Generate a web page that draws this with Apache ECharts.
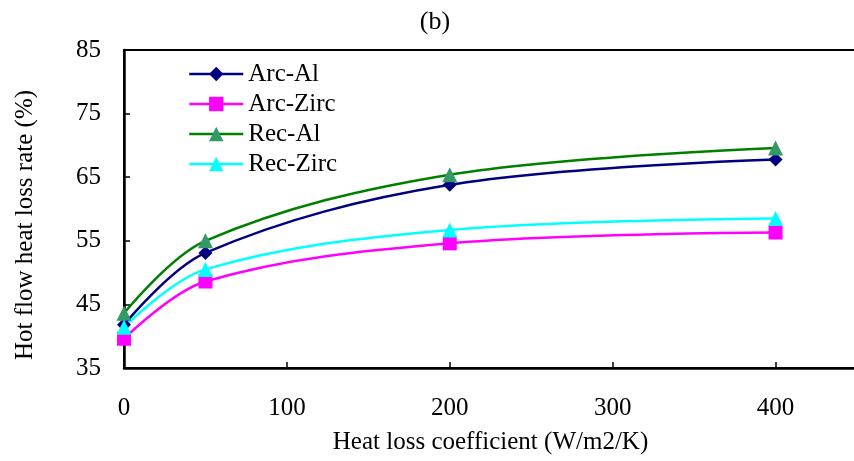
<!DOCTYPE html>
<html>
<head>
<meta charset="utf-8">
<script src="https://cdn.jsdelivr.net/npm/echarts@6/dist/echarts.min.js"></script>
<style>
  html, body { margin: 0; padding: 0; background: #fff; }
  #chart { width: 854px; height: 461px; }
</style>
</head>
<body>
<div id="chart"></div>
<script>
// Heat loss coefficient (W/m2/K)
const coefficients = [0, 50, 200, 400];
const xTicks = [0, 100, 200, 300, 400];
const yTicks = [35, 45, 55, 65, 75, 85];

// Hot flow heat loss rate (%)
const arcAl = [41.8, 53.1, 63.8, 67.8];
const arcZirc = [39.6, 48.6, 54.6, 56.3];
const recAl = [43.6, 55.0, 65.4, 69.6];
const recZirc = [41.4, 50.5, 56.7, 58.5];

const serif = '"Liberation Serif", "Times New Roman", serif';

function pairs(values) {
  return coefficients.map((x, i) => [x, values[i]]);
}

function makeSeries(name, values, lineColor, markColor, symbol, size) {
  return {
    name: name,
    type: 'line',
    data: pairs(values),
    smooth: 0.35,
    symbol: symbol,
    symbolSize: size,
    showAllSymbol: true,
    lineStyle: { color: lineColor, width: 2.5 },
    itemStyle: { color: markColor, borderWidth: 0 },
    emphasis: { disabled: true },
    z: 2
  };
}

const chart = echarts.init(document.getElementById('chart'), null, { renderer: 'canvas' });
chart.setOption({
  animation: false,
  backgroundColor: '#ffffff',
  title: {
    text: '(b)',
    left: 430,
    top: 4,
    textAlign: 'center',
    textStyle: { fontFamily: serif, fontSize: 26, fontWeight: 'normal', color: '#000' }
  },
  legend: {
    orient: 'vertical',
    left: 188,
    top: 61,
    padding: 0,
    itemWidth: 54,
    itemHeight: 18,
    itemGap: 4,
    lineStyle: { width: 2.5 },
    textStyle: { fontFamily: serif, fontSize: 25, color: '#000', lineHeight: 26 },
    data: ['Arc-Al', 'Arc-Zirc', 'Rec-Al', 'Rec-Zirc']
  },
  grid: {
    left: 124,
    top: 50,
    width: 733,
    height: 318,
    outerBoundsMode: 'none',
    containLabel: false,
    show: true,
    borderColor: '#000',
    borderWidth: 2,
    backgroundColor: 'transparent'
  },
  xAxis: {
    type: 'value',
    min: 0,
    max: 450,
    interval: 100,
    name: 'Heat loss coefficient (W/m2/K)',
    nameLocation: 'middle',
    nameGap: 62,
    nameTextStyle: { fontFamily: serif, fontSize: 25, color: '#000' },
    axisLine: { show: true, lineStyle: { color: '#000', width: 2.5 } },
    axisTick: { show: true, inside: true, length: 6, lineStyle: { color: '#000', width: 1.5 } },
    axisLabel: {
      fontFamily: serif, fontSize: 25, color: '#000', margin: 28,
      formatter: v => (xTicks.indexOf(v) >= 0 ? String(v) : '')
    },
    splitLine: { show: false }
  },
  yAxis: {
    type: 'value',
    min: 35,
    max: 85,
    interval: 10,
    name: 'Hot flow heat loss rate (%)',
    nameLocation: 'middle',
    nameGap: 86,
    nameTextStyle: { fontFamily: serif, fontSize: 25, color: '#000', padding: [0, 32, 0, 0] },
    axisLine: { show: true, lineStyle: { color: '#000', width: 2.5 } },
    axisTick: { show: true, inside: true, length: 6, lineStyle: { color: '#000', width: 1.5 } },
    axisLabel: {
      fontFamily: serif, fontSize: 25, color: '#000', margin: 23,
      formatter: v => (yTicks.indexOf(v) >= 0 ? String(v) : '')
    },
    splitLine: { show: false }
  },
  series: [
    makeSeries('Arc-Al', arcAl, '#000080', '#000080', 'diamond', 14),
    makeSeries('Arc-Zirc', arcZirc, '#ff00ff', '#ff00ff', 'rect', 14),
    makeSeries('Rec-Al', recAl, '#008000', '#339966', 'triangle', 15),
    makeSeries('Rec-Zirc', recZirc, '#00ffff', '#00ffff', 'triangle', 15)
  ]
});
</script>
</body>
</html>
